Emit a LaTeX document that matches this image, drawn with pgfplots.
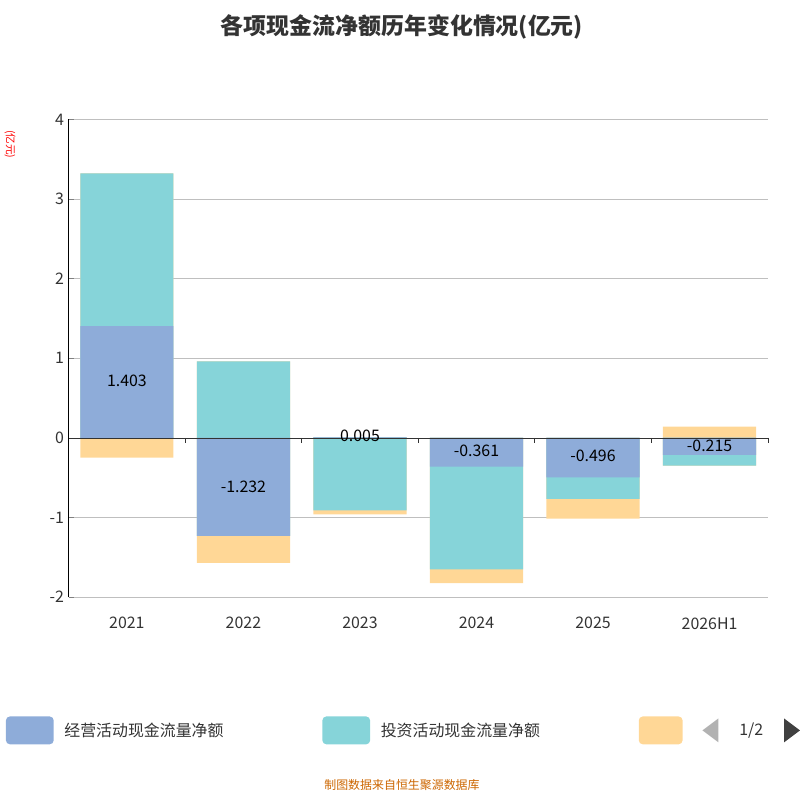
\documentclass[border=0pt]{standalone}
\usepackage{pgfplots}
\pgfplotsset{compat=1.18}
\usepackage{fontspec}
\setmainfont{Noto Sans CJK SC}
\definecolor{opc}{HTML}{8EACD9}
\definecolor{invc}{HTML}{86D4D9}
\definecolor{finc}{HTML}{FFD796}
\begin{document}
\begin{tikzpicture}[x=0.75pt,y=0.75pt]
\path (0,0) rectangle (800,800);
\begin{axis}[at={(48.75pt,150pt)},anchor=south west,scale only axis,
 width=527pt,height=360pt,xmin=-0.5,xmax=5.5,ymin=-2,ymax=4,
 ybar,bar width=0.8,bar shift=0pt,
 axis x line=none,axis y line*=left,
 ytick={-2,-1,0,1,2,3,4},ymajorgrids,grid style={gray!50},
 tick label style={font=\large,text=black!80},
 /pgf/number format/assume math mode=true,
 xtick=\empty,
 clip=false]
\addplot[fill=finc,draw=none] coordinates {(0,3.323)(1,0.96)(2,0.005)(3,0)(4,0)(5,0.14)};
\addplot[fill=finc,draw=none] coordinates {(0,-0.25)(1,-1.572)(2,-0.96)(3,-1.826)(4,-1.016)(5,-0.35)};
\addplot[fill=invc,draw=none] coordinates {(0,3.323)(1,0.96)(2,0.005)(3,0)(4,0)(5,0)};
\addplot[fill=invc,draw=none] coordinates {(0,0)(1,-1.232)(2,-0.91)(3,-1.651)(4,-0.766)(5,-0.35)};
\addplot[fill=opc,draw=none] coordinates {(0,1.403)(1,0)(2,0.005)(3,0)(4,0)(5,0)};
\addplot[fill=opc,draw=none] coordinates {(0,0)(1,-1.232)(2,0)(3,-0.361)(4,-0.496)(5,-0.215)};
\draw[black!80] (axis cs:-0.5,0) -- (axis cs:5.5,0);
\draw[black!80] (axis cs:0.5,0) -- (axis cs:0.5,-0.06);
\draw[black!80] (axis cs:1.5,0) -- (axis cs:1.5,-0.06);
\draw[black!80] (axis cs:2.5,0) -- (axis cs:2.5,-0.06);
\draw[black!80] (axis cs:3.5,0) -- (axis cs:3.5,-0.06);
\draw[black!80] (axis cs:4.5,0) -- (axis cs:4.5,-0.06);
\draw[black!80] (axis cs:5.5,0) -- (axis cs:5.5,-0.06);
\node[font=\large,text=black!80] at (axis cs:0,-2.33) {2021};
\node[font=\large,text=black!80] at (axis cs:1,-2.33) {2022};
\node[font=\large,text=black!80] at (axis cs:2,-2.33) {2023};
\node[font=\large,text=black!80] at (axis cs:3,-2.33) {2024};
\node[font=\large,text=black!80] at (axis cs:4,-2.33) {2025};
\node[font=\large,text=black!80] at (axis cs:5,-2.33) {2026H1};
\node[font=\large] at (axis cs:0,0.72) {1.403};
\node[font=\large] at (axis cs:1,-0.61) {-1.232};
\node[font=\large] at (axis cs:2,0.03) {0.005};
\node[font=\large] at (axis cs:3,-0.16) {-0.361};
\node[font=\large] at (axis cs:4,-0.23) {-0.496};
\node[font=\large] at (axis cs:5,-0.1) {-0.215};
\end{axis}
\node[font=\bfseries\LARGE,text=black!80] at (400,773) {各项现金流净额历年变化情况(亿元)};
\node[rotate=-90,text=red,font=\footnotesize] at (6,655) {(亿元)};
\fill[opc,rounded corners=3pt] (2,52) rectangle (50,80);
\node[anchor=west,font=\large,text=black!80] at (56,66) {经营活动现金流量净额};
\fill[invc,rounded corners=3pt] (320,52) rectangle (368,80);
\node[anchor=west,font=\large,text=black!80] at (374,66) {投资活动现金流量净额};
\fill[finc,rounded corners=3pt] (638,52) rectangle (682,80);
\fill[gray!60] (702,66) -- (718,54) -- (718,78) -- cycle;
\node[font=\large,text=black!80] at (751,66) {1/2};
\fill[black!75] (800,66) -- (784,54) -- (784,78) -- cycle;
\node[text=orange!80!black,font=\small] at (400,11) {制图数据来自恒生聚源数据库};
\end{tikzpicture}
\end{document}
